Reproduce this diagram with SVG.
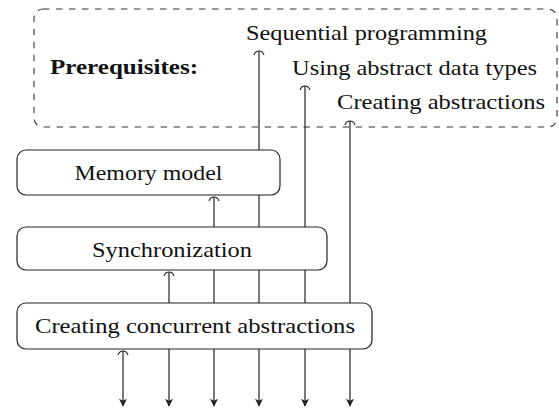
<svg xmlns="http://www.w3.org/2000/svg" width="559" height="408" viewBox="0 0 559 408">
  <style>
    .t { font-family: "Liberation Serif", "Times New Roman", serif; font-size: 22px; fill: #111; }
    .b { font-weight: bold; }
    .box { fill: #fff; stroke: #222; stroke-width: 1.2; }
    .dash { fill: none; stroke: #333; stroke-width: 1.1; stroke-dasharray: 6.5 6.5; }
    .ln { fill: none; stroke: #222; stroke-width: 1.2; }
    .tip { fill: none; stroke: #222; stroke-width: 1.1; }
  </style>
  <defs>
    <marker id="down" viewBox="0 0 10 10" refX="9" refY="5" markerWidth="8" markerHeight="8" markerUnits="userSpaceOnUse" orient="auto">
      <path d="M0,0 L10,5 L0,10 L2.5,5 Z" fill="#222"/>
    </marker>
  </defs>

  <g id="prerequisites">
    <rect class="dash" x="34" y="9" width="523" height="118" rx="9" ry="9"/>
    <text class="t b" x="50" y="74" textLength="148" lengthAdjust="spacingAndGlyphs">Prerequisites:</text>
  </g>
  <g id="sequential-programming">
    <text class="t" x="246" y="40" textLength="241" lengthAdjust="spacingAndGlyphs">Sequential programming</text>
  </g>
  <g id="using-abstract-data-types">
    <text class="t" x="292" y="75" textLength="245" lengthAdjust="spacingAndGlyphs">Using abstract data types</text>
  </g>
  <g id="creating-abstractions">
    <text class="t" x="337" y="109" textLength="208" lengthAdjust="spacingAndGlyphs">Creating abstractions</text>
  </g>

  <g id="connectors">
    <path class="ln" d="M123,351 V406" marker-end="url(#down)"/>
    <path class="tip" d="M118,355 C119,352 121,351 123,351 C125,351 127,352 128,355"/>
    <path class="ln" d="M169,272 V406" marker-end="url(#down)"/>
    <path class="tip" d="M164,276 C165,273 167,272 169,272 C171,272 173,273 174,276"/>
    <path class="ln" d="M214,197 V406" marker-end="url(#down)"/>
    <path class="tip" d="M209,201 C210,198 212,197 214,197 C216,197 218,198 219,201"/>
    <path class="ln" d="M259,51 V406" marker-end="url(#down)"/>
    <path class="tip" d="M254,55 C255,52 257,51 259,51 C261,51 263,52 264,55"/>
    <path class="ln" d="M305,86 V406" marker-end="url(#down)"/>
    <path class="tip" d="M300,90 C301,87 303,86 305,86 C307,86 309,87 310,90"/>
    <path class="ln" d="M350,121 V406" marker-end="url(#down)"/>
    <path class="tip" d="M345,125 C346,122 348,121 350,121 C352,121 354,122 355,125"/>
  </g>

  <g id="memory-model">
    <rect class="box" x="17" y="150" width="263" height="45" rx="9" ry="9"/>
    <text class="t" x="148.5" y="180" text-anchor="middle" textLength="148" lengthAdjust="spacingAndGlyphs">Memory model</text>
  </g>
  <g id="synchronization">
    <rect class="box" x="17" y="227" width="310" height="43" rx="9" ry="9"/>
    <text class="t" x="172" y="257" text-anchor="middle" textLength="160" lengthAdjust="spacingAndGlyphs">Synchronization</text>
  </g>
  <g id="creating-concurrent-abstractions">
    <rect class="box" x="17" y="303" width="355" height="46" rx="9" ry="9"/>
    <text class="t" x="195" y="333" text-anchor="middle" textLength="320" lengthAdjust="spacingAndGlyphs">Creating concurrent abstractions</text>
  </g>
</svg>
